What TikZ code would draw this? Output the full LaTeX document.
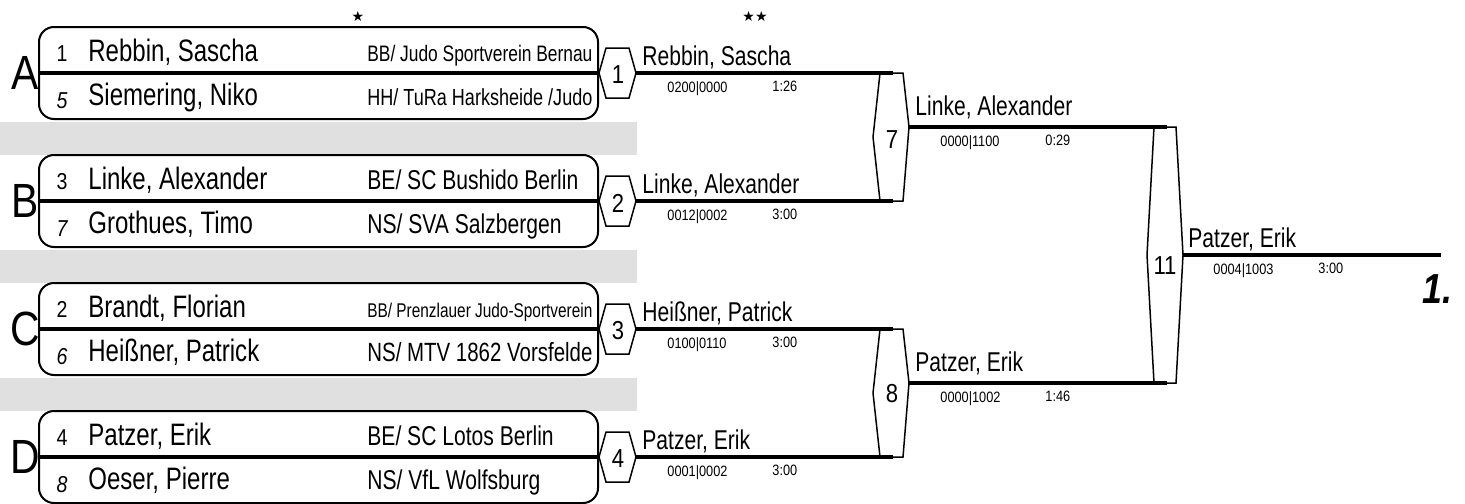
\documentclass[tikz,border=0pt]{standalone}
\usepackage{fontspec}
\usepackage{graphicx}
\setmainfont{Liberation Sans}
\newfontfamily\nf[FakeStretch=0.775]{Liberation Sans}
\newfontfamily\smf[FakeStretch=0.85]{Liberation Sans}
\newfontfamily\symf{DejaVu Sans}
\definecolor{bargray}{HTML}{E0E0E0}
\tikzset{
  namef/.style={font=\nf\fontsize{15.5}{17}\selectfont, anchor=base west, inner sep=0pt},
  clubf/.style={font=\nf\fontsize{13.6}{16}\selectfont, anchor=base west, inner sep=0pt},
  seedf/.style={font=\smf\fontsize{11.5}{13}\selectfont, anchor=base, inner sep=0pt},
  seedi/.style={font=\smf\itshape\fontsize{11.5}{13}\selectfont, anchor=base, inner sep=0pt},
  scoref/.style={font=\smf\fontsize{7.5}{9}\selectfont, anchor=north west, inner sep=0pt},
  hexnum/.style={font=\smf\fontsize{13}{15}\selectfont, inner sep=0pt},
  grpf/.style={font=\smf\fontsize{24}{26}\selectfont, inner sep=0pt},
  pbox/.style={draw, line width=1pt, rounded corners=7.5pt, minimum width=279.5pt, minimum height=46pt, inner sep=0pt},
  midline/.style={line width=1.6pt},
  resline/.style={line width=1.6pt},
  hexline/.style={line width=0.75pt, line join=miter},
  starf/.style={font=\symf\fontsize{7}{8}\selectfont, inner sep=0pt},
}
\newcommand\pairbox[8]{%
  \node[pbox] (box#1) at (318.5,#2) {};
  \draw[midline] (box#1.west) -- (box#1.east);
  \node[grpf] (grp#1) at (25,#2) {#1};
  \node[seedf] (sa#1) at (62,{#2-12}) {#3};
  \node[namef] (na#1) at (88,{#2-12}) {#4};
  \node[clubf] (ca#1) at (367,{#2-12}) {#5};
  \node[seedi] (sb#1) at (62,{#2+35}) {#6};
  \node[namef] (nb#1) at (88,{#2+32}) {#7};
  \node[clubf] (cb#1) at (367,{#2+32}) {#8};
}
% round-1 hexagon: #1 id, #2 mid y
\newcommand\hexone[2]{%
  \coordinate (h#1l) at (599,#2);
  \coordinate (h#1tl) at (606,{#2-25});
  \coordinate (h#1tr) at (629,{#2-25});
  \coordinate (h#1r) at (636,#2);
  \coordinate (h#1br) at (629,{#2+25});
  \coordinate (h#1bl) at (606,{#2+25});
  \draw[hexline,fill=white] (h#1l) -- (h#1tl) -- (h#1tr) -- (h#1r) -- (h#1br) -- (h#1bl) -- cycle;
  \node[hexnum] (hn#1) at (618,{#2+2}) {#1};
}
% result text: #1 id, #2 x, #3 line y, #4 gap, #5 name, #6 score, #7 time
\newcommand\restext[7]{%
  \node[clubf] (rn#1) at (#2,{#3-#4}) {#5};
  \node[scoref] (rs#1) at ({#2+25},{#3+8}) {#6};
  \node[scoref] (rt#1) at ({#2+130},{#3+8}) {#7};
}
\begin{document}
\begin{tikzpicture}[x=0.5pt,y=-0.5pt]
\useasboundingbox (0,0) rectangle (1465,503);
% gray separators
\fill[bargray] (0,122) rectangle (637,155);
\fill[bargray] (0,250) rectangle (637,283);
\fill[bargray] (0,378) rectangle (637,411);
% stars
\node[starf] (st1) at (358,16) {★};
\node[starf] (st2) at (755,16) {★★};
% boxes
\pairbox{A}{73}{1}{Rebbin, Sascha}{\resizebox{112.5pt}{!}{BB/ Judo Sportverein Bernau}}{5}{Siemering, Niko}{\resizebox{112.5pt}{!}{HH/ TuRa Harksheide /Judo}}
\pairbox{B}{201}{3}{Linke, Alexander}{BE/ SC Bushido Berlin}{7}{Grothues, Timo}{NS/ SVA Salzbergen}
\pairbox{C}{329}{2}{Brandt, Florian}{\resizebox{112.5pt}{!}{BB/ Prenzlauer Judo-Sportverein}}{6}{Heißner, Patrick}{\resizebox{112.5pt}{!}{NS/ MTV 1862 Vorsfelde}}
\pairbox{D}{457}{4}{Patzer, Erik}{BE/ SC Lotos Berlin}{8}{Oeser, Pierre}{NS/ VfL Wolfsburg}
% round 1 hexagons
\hexone{1}{73}
\hexone{2}{201}
\hexone{3}{329}
\hexone{4}{457}
% round 2 hexagons
\coordinate (h7l) at (873,137); \coordinate (h7tl) at (880,73); \coordinate (h7tr) at (903,73);
\coordinate (h7r) at (909,127); \coordinate (h7br) at (903,201); \coordinate (h7bl) at (880,201);
\coordinate (h8l) at (873,393); \coordinate (h8tl) at (880,329); \coordinate (h8tr) at (903,329);
\coordinate (h8r) at (909,383); \coordinate (h8br) at (903,457); \coordinate (h8bl) at (880,457);
\coordinate (h11l) at (1147,255); \coordinate (h11tl) at (1154,127); \coordinate (h11tr) at (1176,127);
\coordinate (h11r) at (1183,255); \coordinate (h11br) at (1176,383); \coordinate (h11bl) at (1154,383);
\draw[hexline] (h7l) -- (h7tl) -- (h7tr) -- (h7r) -- (h7br) -- (h7bl) -- cycle;
\draw[hexline] (h8l) -- (h8tl) -- (h8tr) -- (h8r) -- (h8br) -- (h8bl) -- cycle;
\draw[hexline] (h11l) -- (h11tl) -- (h11tr) -- (h11r) -- (h11br) -- (h11bl) -- cycle;
\node[hexnum] (hn7) at (892,140) {7};
\node[hexnum] (hn8) at (892,394) {8};
\node[hexnum] (hn11) at (1165,266) {11};
% result lines
\coordinate (e1) at (893,73); \coordinate (e2) at (893,201);
\coordinate (e3) at (893,329); \coordinate (e4) at (893,457);
\coordinate (e7) at (1167,127); \coordinate (e8) at (1167,383);
\coordinate (efin) at (1441,255);
\draw[resline] (h1r) -- (e1);
\draw[resline] (h2r) -- (e2);
\draw[resline] (h3r) -- (e3);
\draw[resline] (h4r) -- (e4);
\draw[resline] (h7r) -- (e7);
\draw[resline] (h8r) -- (e8);
\draw[resline] (h11r) -- (efin);
% result texts
\restext{1}{642}{73}{8}{Rebbin, Sascha}{0200|0000}{1:26}
\restext{2}{642}{201}{8}{Linke, Alexander}{0012|0002}{3:00}
\restext{3}{642}{329}{8}{Heißner, Patrick}{0100|0110}{3:00}
\restext{4}{642}{457}{8}{Patzer, Erik}{0001|0002}{3:00}
\restext{7}{915}{127}{12}{Linke, Alexander}{0000|1100}{0:29}
\restext{8}{915}{383}{12}{Patzer, Erik}{0000|1002}{1:46}
\restext{11}{1188}{255}{8}{Patzer, Erik}{0004|1003}{3:00}
% place
\node[font=\smf\bfseries\itshape\fontsize{21}{24}\selectfont, inner sep=0pt, anchor=base east] (place) at (1453,303) {1.};
\end{tikzpicture}
\end{document}
